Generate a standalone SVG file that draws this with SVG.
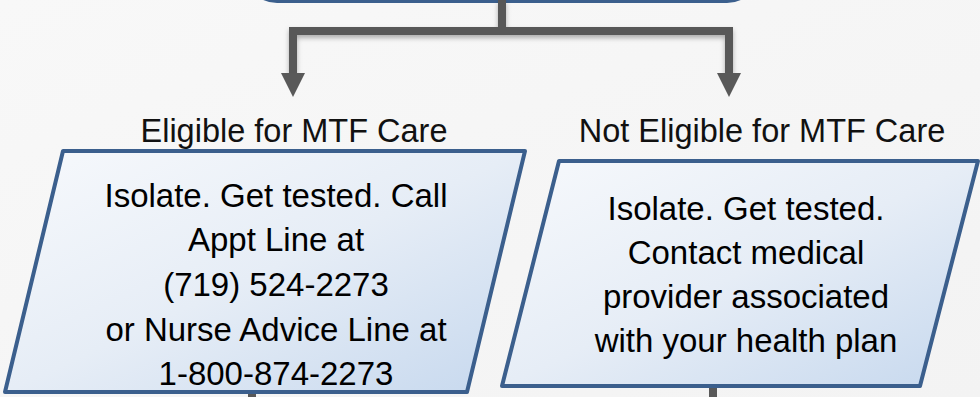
<svg xmlns="http://www.w3.org/2000/svg" width="980" height="397" viewBox="0 0 980 397">
  <defs>
    <linearGradient id="bg" x1="0" y1="0" x2="1" y2="1">
      <stop offset="0" stop-color="#F8F8F8"/>
      <stop offset="1" stop-color="#F3F3F3"/>
    </linearGradient>
    <linearGradient id="boxfill" x1="0" y1="0" x2="1" y2="1">
      <stop offset="0" stop-color="#F7F9FC"/>
      <stop offset="0.5" stop-color="#E6EDF6"/>
      <stop offset="1" stop-color="#C6D8EE"/>
    </linearGradient>
    <filter id="shadow" x="-10%" y="-50%" width="120%" height="200%">
      <feDropShadow dx="0" dy="3" stdDeviation="2.5" flood-color="#000" flood-opacity="0.3"/>
    </filter>
    <style>
      .box { fill: url(#boxfill); stroke: #3B5F8D; stroke-width: 4; stroke-linejoin: round; }
      .conn { stroke: #595959; stroke-width: 8; fill: none; }
      .head { fill: #595959; }
      .lbl { font-family: "Liberation Sans", Arial, sans-serif; font-size: 32.5px; fill: #111; text-anchor: middle; }
      .txt { font-family: "Liberation Sans", Arial, sans-serif; font-size: 33px; fill: #000; text-anchor: middle; }
    </style>
  </defs>
  <rect x="0" y="0" width="980" height="397" fill="url(#bg)"/>

  <g id="top-node">
    <rect class="box" x="247" y="-60" width="510" height="61" rx="30"/>
  </g>

  <g id="connectors">
    <g filter="url(#shadow)">
      <line class="conn" x1="502" y1="0" x2="502" y2="32"/>
      <path class="conn" d="M293,73 V31 H729 V73"/>
    </g>
    <polygon class="head" points="281,73 305,73 293,97"/>
    <polygon class="head" points="717,73 741,73 729,97"/>
    <line class="conn" x1="252" y1="392" x2="252" y2="400"/>
    <line class="conn" x1="713" y1="386" x2="713" y2="400"/>
  </g>

  <g id="label-eligible">
    <text class="lbl" x="294" y="142">Eligible for MTF Care</text>
  </g>
  <g id="label-not-eligible">
    <text class="lbl" x="762" y="142">Not Eligible for MTF Care</text>
  </g>

  <g id="node-eligible">
    <polygon class="box" points="63,151 525,151 467,392 5,392"/>
    <text class="txt" x="276" y="207">Isolate. Get tested. Call</text>
    <text class="txt" x="276" y="251">Appt Line at</text>
    <text class="txt" x="276" y="296">(719) 524-2273</text>
    <text class="txt" x="276" y="341">or Nurse Advice Line at</text>
    <text class="txt" x="276" y="385">1-800-874-2273</text>
  </g>

  <g id="node-not-eligible">
    <polygon class="box" points="559,161 978,161 920,386 502,386"/>
    <text class="txt" x="746" y="220">Isolate. Get tested.</text>
    <text class="txt" x="746" y="264">Contact medical</text>
    <text class="txt" x="746" y="308">provider associated</text>
    <text class="txt" x="746" y="352">with your health plan</text>
  </g>
</svg>
